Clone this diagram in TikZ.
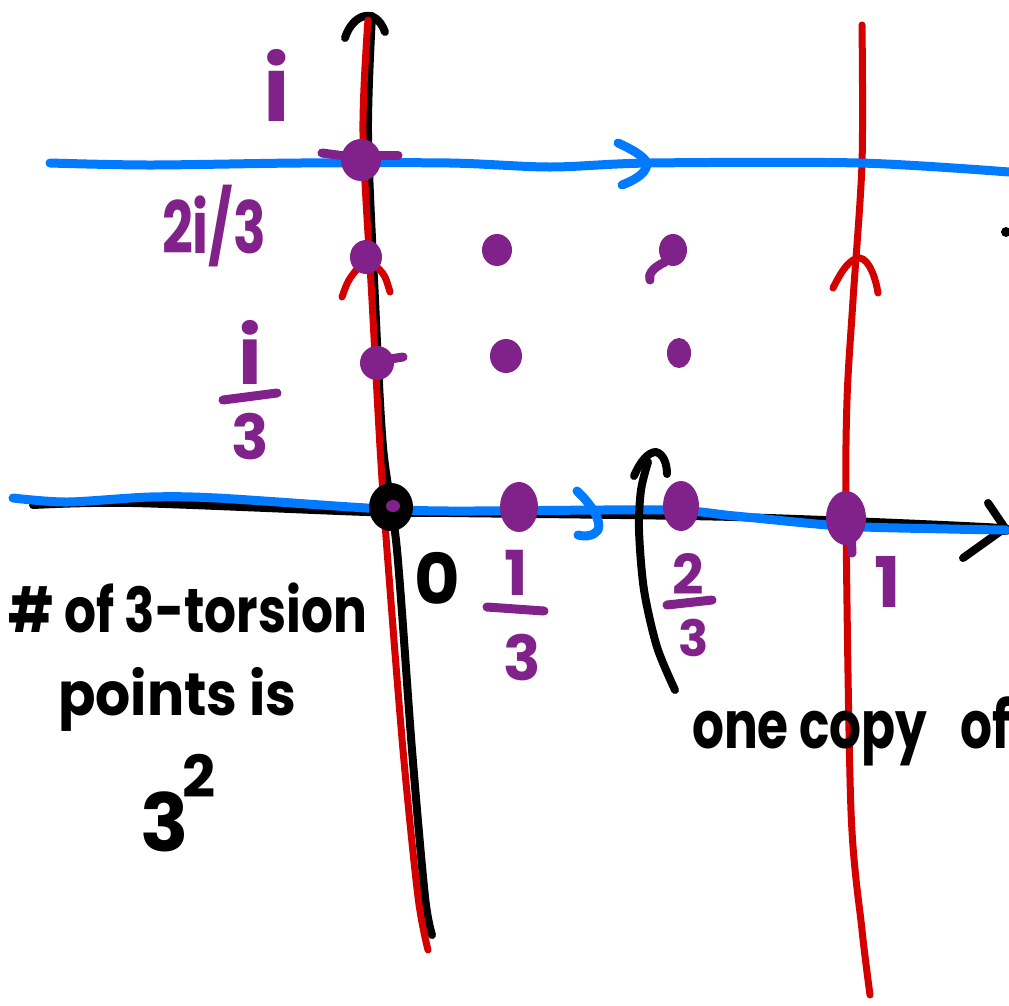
\documentclass[tikz,border=0pt]{standalone}
\usepackage{fontspec}
\setmainfont{Poppins}
\definecolor{hblue}{RGB}{0,122,255}
\definecolor{hred}{RGB}{212,0,0}
\definecolor{hpurp}{RGB}{128,34,138}
\begin{document}
\begin{tikzpicture}[x=1pt,y=-1pt,line cap=round,line join=round,
  bluepen/.style={draw=hblue,line width=9pt},
  redpen/.style={draw=hred,line width=7pt},
  blackpen/.style={draw=black,line width=8pt},
  purppen/.style={draw=hpurp,line width=9pt},
  plabel/.style={text=hpurp,inner sep=0pt,font=\fontsize{#1}{#1}\selectfont\bfseries},
  blabel/.style={text=black,inner sep=0pt,font=\fontsize{#1}{#1}\selectfont\bfseries}]
\path[use as bounding box] (0,0) rectangle (1009,1005);
\clip (0,0) rectangle (1009,1005);
\fill[white] (0,0) rectangle (1009,1005);

% black axes
\draw[blackpen] plot[smooth] coordinates {(33,505) (133,503) (367,512) (450,513) (735,517) (985,527) (1004,531)};
\draw[blackpen] (988,503) -- (1005,528) -- (963,558);
\draw[blackpen] plot[smooth] coordinates {(372,16) (368,133) (375,300) (383,447) (397,550) (412,750) (425,897) (432,935)};
\draw[blackpen] (345,38) .. controls (352,15) and (375,5) .. (385,32);

% red lines
\draw[redpen] plot[smooth] coordinates {(368,20) (363,133) (372,300) (380,447) (387,550) (403,750) (418,897) (428,950)};
\draw[redpen] (342,297) .. controls (348,280) .. (362,263);
\draw[redpen] (375,265) .. controls (385,275) .. (390,292);
\draw[redpen] plot[smooth] coordinates {(862,25) (862,163) (853,300) (847,400) (846,520) (851,811) (862,930) (870,995)};
\draw[redpen] (833,288) .. controls (842,270) and (850,258) .. (860,258) .. controls (870,260) and (876,280) .. (878,293);

% blue lines
\draw[bluepen] plot[smooth] coordinates {(50,163) (150,165) (300,163) (450,163) (550,167) (650,163) (860,163) (1009,172)};
\draw[bluepen] (618,143) .. controls (638,152) and (648,160) .. (647,165) .. controls (645,175) and (632,181) .. (622,185);
\draw[bluepen] plot[smooth] coordinates {(13,498) (67,502) (150,497) (217,498) (367,508) (450,511) (664,510) (735,516) (842,526) (949,529) (1006,530)};
\draw[bluepen] (577,491) .. controls (592,505) and (602,522) .. (598,530) .. controls (594,536) and (585,537) .. (578,535);

% black bracket
\draw[blackpen] (634,476) .. controls (640,462) and (648,452) .. (656,452) .. controls (664,454) and (667,465) .. (667,474);
\draw[blackpen] plot[smooth] coordinates {(648,462) (641,490) (639,530) (644,590) (657,647) (675,690)};
\fill[black] (1006,232) circle (5);

% purple points
\fill[hpurp] (361,160) ellipse [x radius=20, y radius=21];
\draw[purppen] (322,153) -- (345,156);
\draw[purppen] (378,155) -- (398,155);
\fill[hpurp] (366,257) ellipse [x radius=16, y radius=17];
\fill[hpurp] (377,363) ellipse [x radius=17, y radius=17];
\draw[purppen] (390,359) -- (403,357);
\fill[hpurp] (497,250) ellipse [x radius=15, y radius=16];
\fill[hpurp] (506,356) ellipse [x radius=16, y radius=17];
\fill[hpurp] (673,250) ellipse [x radius=14, y radius=16];
\draw[purppen] (665,262) .. controls (652,268) and (648,275) .. (650,280);
\fill[hpurp] (679,353) ellipse [x radius=12, y radius=15];
\fill[hpurp] (519,507) ellipse [x radius=19, y radius=25];
\fill[hpurp] (681,506) ellipse [x radius=18, y radius=25];
\fill[hpurp] (846,518) ellipse [x radius=20, y radius=27];
\draw[purppen] (851,530) -- (852,553);
\fill[black] (391,507) ellipse [x radius=22, y radius=24];
\fill[hpurp] (393,506) ellipse [x radius=7, y radius=6];

% purple labels
\node[plabel=90] (li) at (277,85) {i};
\node[plabel=72,xscale=0.75] (l2i3) at (214,226) {2i/3};
\node[plabel=80] (li3n) at (250,352) {i};
\draw[purppen] (223,400) -- (277,393);
\node[plabel=62] (li3d) at (250,437) {3};
\node[plabel=62] (l13n) at (516,573) {1};
\draw[purppen] (487,607) -- (544,611);
\node[plabel=62] (l13d) at (522,658) {3};
\node[plabel=55] (l23n) at (688,574) {2};
\draw[purppen] (667,605) -- (712,600);
\node[plabel=50] (l23d) at (694,638) {3};
\node[plabel=70] (l1) at (888,582) {1};

% black labels
\node[blabel=70] (l0) at (437,578) {0};
\node[blabel=62,anchor=base west,xscale=0.81] (t1) at (8,632) {\# of 3-torsion};
\node[blabel=60,anchor=base west,xscale=0.92] (t2) at (58,715) {points is};
\node[blabel=80] (t3) at (165,822) {3};
\node[blabel=58] (t4) at (199,776) {2};
\node[blabel=66,anchor=base west,xscale=0.76] (t5) at (692,748) {one copy\hspace{0.66em}of};
\end{tikzpicture}
\end{document}
